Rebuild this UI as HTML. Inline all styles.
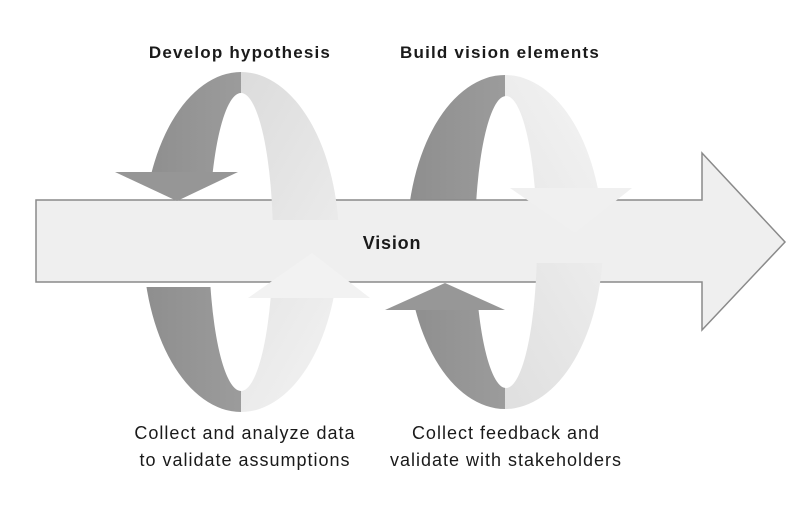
<!DOCTYPE html>
<html><head><meta charset="utf-8"><style>
html,body{margin:0;padding:0;background:#fff;width:804px;height:516px;overflow:hidden}
svg{display:block}
text{font-family:"Liberation Sans",Arial,sans-serif;fill:#1a1a1a}
</style></head><body>
<svg width="804" height="516" viewBox="0 0 804 516" xmlns="http://www.w3.org/2000/svg">
<defs>
<linearGradient id="dk" x1="0" y1="0" x2="1" y2="0"><stop offset="0" stop-color="#8e8e8e"/><stop offset="1" stop-color="#a9a9a9"/></linearGradient>
<linearGradient id="lt" x1="0" y1="0" x2="1" y2="1"><stop offset="0" stop-color="#d4d4d4"/><stop offset="1" stop-color="#f3f3f3"/></linearGradient>
<linearGradient id="lt2" x1="0" y1="1" x2="1" y2="0"><stop offset="0" stop-color="#d8d8d8"/><stop offset="1" stop-color="#f4f4f4"/></linearGradient>
<clipPath id="L1a"><rect x="0" y="0" width="241" height="172"/><rect x="0" y="287" width="241" height="300"/></clipPath>
<clipPath id="L1b"><rect x="241" y="0" width="300" height="220"/><rect x="241" y="298" width="300" height="300"/></clipPath>
<clipPath id="R1a"><rect x="300" y="0" width="205" height="200"/><rect x="300" y="310" width="205" height="300"/></clipPath>
<clipPath id="R1b"><rect x="505" y="0" width="300" height="188"/><rect x="505" y="263" width="300" height="300"/></clipPath>
</defs>
<g fill-rule="evenodd">
<path clip-path="url(#L1a)" fill="url(#dk)" d="M143,242 a98,170 0 1,0 196,0 a98,170 0 1,0 -196,0 Z M209,242 a32,149 0 1,0 64,0 a32,149 0 1,0 -64,0 Z"/>
<path clip-path="url(#R1a)" fill="url(#dk)" d="M407,242 a98,167 0 1,0 196,0 a98,167 0 1,0 -196,0 Z M475,242 a31,146 0 1,0 62,0 a31,146 0 1,0 -62,0 Z"/>
</g>
<path d="M36,200 L702,200 L702,153 L785,242 L702,330 L702,282 L36,282 Z" fill="#efefef" stroke="#8a8a8a" stroke-width="1.5"/>
<g fill-rule="evenodd">
<path clip-path="url(#L1b)" fill="url(#lt)" d="M143,242 a98,170 0 1,0 196,0 a98,170 0 1,0 -196,0 Z M209,242 a32,149 0 1,0 64,0 a32,149 0 1,0 -64,0 Z"/>
<path clip-path="url(#R1b)" fill="url(#lt2)" d="M407,242 a98,167 0 1,0 196,0 a98,167 0 1,0 -196,0 Z M475,242 a31,146 0 1,0 62,0 a31,146 0 1,0 -62,0 Z"/>
</g>
<polygon points="115,172 238,172 177,201" fill="#969696"/>
<polygon points="248,298 370,298 312,253" fill="#f2f2f2"/>
<polygon points="510,188 632,188 575,233" fill="#f0f0f0"/>
<polygon points="385,310 505,310 445,283" fill="#979797"/>
<text x="240" y="58" font-size="17" font-weight="bold" letter-spacing="1.2" text-anchor="middle">Develop hypothesis</text>
<text x="500" y="58" font-size="17" font-weight="bold" letter-spacing="1.2" text-anchor="middle">Build vision elements</text>
<text x="392" y="249" font-size="18" font-weight="bold" letter-spacing="0.8" text-anchor="middle">Vision</text>
<text x="245" y="439" font-size="18" letter-spacing="1" text-anchor="middle">Collect and analyze data</text>
<text x="245" y="466" font-size="18" letter-spacing="1" text-anchor="middle">to validate assumptions</text>
<text x="506" y="439" font-size="18" letter-spacing="1" text-anchor="middle">Collect feedback and</text>
<text x="506" y="466" font-size="18" letter-spacing="1" text-anchor="middle">validate with stakeholders</text>
</svg>
</body></html>
